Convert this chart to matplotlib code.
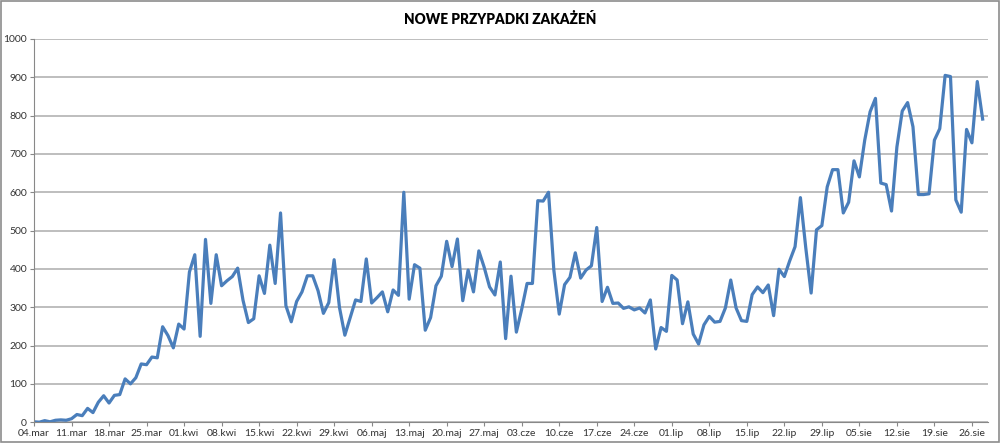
import matplotlib
matplotlib.use("Agg")
import matplotlib.pyplot as plt
from matplotlib.patches import Rectangle

plt.rcParams["font.family"] = ["Lato", "DejaVu Sans"]

title = "NOWE PRZYPADKI ZAKAŻEŃ"

mar = [1, 0, 4, 1, 5, 6, 5, 9, 20, 17, 36, 25, 52, 69, 50, 70, 72, 113, 100, 116,
       152, 150, 170, 168, 249, 226, 194, 256]
kwi = [243, 392, 437, 224, 477, 310, 437, 356, 369, 380, 402, 318, 260, 270, 382,
       336, 462, 362, 546, 304, 262, 315, 340, 382, 382, 343, 284, 312, 424, 299]
maj = [227, 273, 319, 315, 426, 311, 325, 340, 288, 345, 331, 600, 321, 411, 402,
       240, 273, 356, 381, 472, 406, 478, 317, 397, 340, 447, 404, 353, 332, 418, 218]
cze = [381, 235, 295, 362, 362, 578, 577, 600, 396, 282, 359, 378, 442, 376, 397,
       408, 508, 315, 352, 310, 311, 297, 301, 293, 298, 285, 319, 191, 247, 237]
lip = [383, 371, 257, 314, 230, 204, 254, 276, 261, 263, 298, 371, 298, 265, 263,
       333, 353, 338, 358, 278, 399, 380, 421, 458, 586, 455, 337, 502, 513, 614, 659]
sie = [659, 546, 574, 682, 640, 736, 810, 845, 624, 620, 551, 718, 812, 834, 771,
       594, 594, 596, 736, 766, 905, 902, 580, 548, 764, 729, 889, 791]

tick_labels = ["04.mar", "11.mar", "18.mar", "25.mar", "01.kwi", "08.kwi", "15.kwi",
               "22.kwi", "29.kwi", "06.maj", "13.maj", "20.maj", "27.maj", "03.cze",
               "10.cze", "17.cze", "24.cze", "01.lip", "08.lip", "15.lip", "22.lip",
               "29.lip", "05.sie", "12.sie", "19.sie", "26.sie"]

values = mar + kwi + maj + cze + lip + sie
days = list(range(len(values)))

fig = plt.figure(figsize=(10, 4.43), dpi=100)
ax = fig.add_axes([0.034, 0.047, 0.954, 0.865])

ax.plot(days, values, color="#4a7ebb", lw=2.3, solid_joinstyle="round")

ax.set_xlim(0, 178)
ax.set_ylim(0, 1000)
ax.set_yticks(range(0, 1001, 100))
ax.set_xticks(range(0, 7 * len(tick_labels), 7))
ax.set_xticklabels(tick_labels)
ax.tick_params(axis="x", labelsize=7.5, length=3, color="#888888", pad=2)
ax.tick_params(axis="y", labelsize=7.5, length=3, color="#888888", pad=2)
for lab in ax.get_xticklabels() + ax.get_yticklabels():
    lab.set_color("#333333")

ax.grid(axis="y", color="#b3b3b3", lw=1.2)
ax.set_axisbelow(True)
for s in ["top", "right"]:
    ax.spines[s].set_visible(False)
ax.spines["left"].set_color("#888888")
ax.spines["bottom"].set_color("#888888")

fig.text(0.5, 0.957, title, ha="center", va="center", fontsize=9.8,
         fontweight="heavy")

fig.patches.append(Rectangle((0.001, 0.002), 0.998, 0.996, transform=fig.transFigure,
                             fill=False, edgecolor="#8c8c8c", lw=1.2))

fig.savefig("out.png", dpi=100)
